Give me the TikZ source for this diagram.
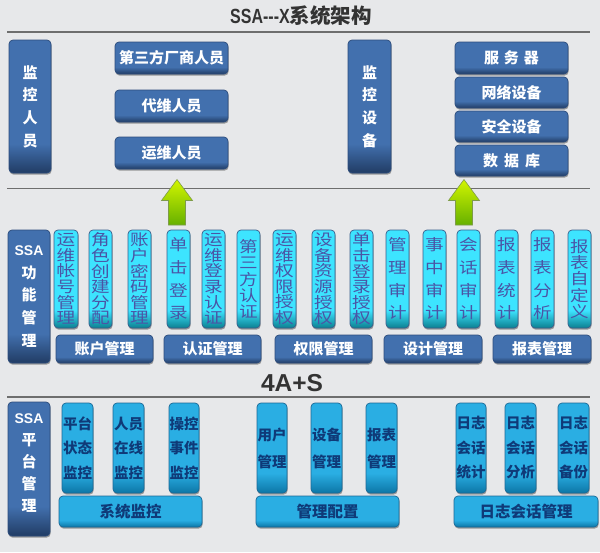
\documentclass[tikz,border=0pt]{standalone}
\usepackage{fontspec}
\usepackage{graphicx}
\setmainfont{Noto Sans CJK SC}
\newfontfamily\lat{Liberation Sans}
\newfontfamily\cjkwide[FakeStretch=1.2]{Noto Sans CJK SC}
\usetikzlibrary{shadows}

\definecolor{bg}{HTML}{E7E8EA}
\definecolor{rule}{HTML}{6E6E6E}
\definecolor{dkA}{HTML}{4270AE}
\definecolor{dkB}{HTML}{213C64}
\definecolor{dkE}{HTML}{2C4C7C}
\definecolor{cyA}{HTML}{3DE4FF}
\definecolor{cyB}{HTML}{0B7F90}
\definecolor{cyE}{HTML}{3A5E8C}
\definecolor{cyT}{HTML}{4A55A6}
\definecolor{mbA}{HTML}{2AAEE3}
\definecolor{mbB}{HTML}{0C76A6}
\definecolor{mbE}{HTML}{1B6896}
\definecolor{mbT}{HTML}{0F3A78}
\definecolor{grA}{HTML}{D2F500}
\definecolor{grB}{HTML}{66B000}
\definecolor{grE}{HTML}{7E9B4A}
\definecolor{ttl}{HTML}{333333}

\pgfdeclareverticalshading{dkshade}{100bp}{color(0bp)=(dkB); color(25bp)=(dkB); color(36bp)=(dkA); color(100bp)=(dkA)}
\pgfdeclareverticalshading{cyshade}{100bp}{color(0bp)=(cyB); color(25bp)=(cyB); color(34bp)=(cyA); color(100bp)=(cyA)}
\pgfdeclareverticalshading{mbshade}{100bp}{color(0bp)=(mbB); color(25bp)=(mbB); color(36bp)=(mbA); color(100bp)=(mbA)}
\pgfdeclareverticalshading{grshade}{100bp}{color(0bp)=(grB); color(25bp)=(grB); color(75bp)=(grA); color(100bp)=(grA)}

\tikzset{
  boxbase/.style={rounded corners=4pt, inner sep=0pt, outer sep=0pt, align=center,
    line width=0.7pt, drop shadow={shadow xshift=0.6pt, shadow yshift=-1.6pt, opacity=0.35, fill=black}},
  dkbox/.style={boxbase, draw=dkE, shade, shading=dkshade, text=white,
    font=\bfseries\fontsize{15}{22.6}\selectfont},
  cybox/.style={boxbase, draw=cyE, shade, shading=cyshade, text=cyT,
    font=\cjkwide\fontsize{15.5}{15.6}\selectfont},
  cyfour/.style={font=\cjkwide\fontsize{15.5}{22.7}\selectfont},
  cyfive/.style={font=\cjkwide\fontsize{15.5}{16.4}\selectfont},
  mbbox/.style={boxbase, draw=mbE, shade, shading=mbshade, text=mbT,
    font=\bfseries\fontsize{14.5}{24.5}\selectfont},
  mbtwo/.style={font=\bfseries\fontsize{14.5}{27}\selectfont},
  grpmb/.style={font=\bfseries\fontsize{15.5}{18}\selectfont},
  rulel/.style={draw=rule, line width=1.5pt},
  arrowbox/.style={draw=grE, line width=0.6pt, shade, shading=grshade},
  titletext/.style={text=ttl, anchor=base, inner sep=0pt}
}

\newcommand\mybox[7]{\node[#1, minimum width={(#5)-(#3)}, minimum height={(#6)-(#4)}] (#2) at ({((#3)+(#5))/2},{((#4)+(#6))/2}) {#7};}
\newcommand\greenarrow[1]{\path[arrowbox] ({#1-8.5},225) -- ({#1-8.5},200.5) -- ({#1-15.5},200.5) -- (#1,179.5) -- ({#1+15.5},200.5) -- ({#1+8.5},200.5) -- ({#1+8.5},225) -- cycle;}

\begin{document}
\begin{tikzpicture}[x=1pt,y=-1pt]
\fill[bg] (0,0) rectangle (600,552);
\useasboundingbox (0,0) rectangle (600,552);

% titles and rules
\node[titletext, font=\bfseries\fontsize{20.5}{22}\selectfont] (title) at (301,23)
  {{\lat\bfseries\scalebox{0.78}[1]{SSA---X}}系统架构};
\coordinate (r1a) at (7,32); \coordinate (r1b) at (590,32);
\draw[rulel] (r1a) -- (r1b);
\coordinate (r2a) at (7,188.5); \coordinate (r2b) at (590,188.5);
\draw[rulel] (r2a) -- (r2b);
\node[titletext, font=\lat\bfseries\fontsize{24.5}{26}\selectfont] (fas) at (292,391.5) {4A+S};
\coordinate (r3a) at (7,397); \coordinate (r3b) at (590,397);
\draw[rulel] (r3a) -- (r3b);

% top section
\mybox{dkbox}{jkry}{9}{40}{51}{173}{监\\控\\人\\员}
\mybox{dkbox}{dsf}{115}{42}{228}{74}{第三方厂商人员}
\mybox{dkbox}{dw}{115}{90}{228}{122}{代维人员}
\mybox{dkbox}{yw}{115}{137}{228}{169}{运维人员}
\mybox{dkbox}{jksb}{348}{40}{391}{173}{监\\控\\设\\备}
\mybox{dkbox}{fwq}{455}{42}{568}{74}{服\hspace{5pt}务\hspace{5pt}器}
\mybox{dkbox}{wl}{455}{77}{568}{108}{网络设备}
\mybox{dkbox}{aq}{455}{111}{568}{142}{安全设备}
\mybox{dkbox}{sjk}{455}{145}{568}{176}{数\hspace{6pt}据\hspace{6pt}库}

% arrows
\greenarrow{177}
\greenarrow{464}

% middle section
\mybox{dkbox}{ssa1}{8}{230}{50}{363}{{\lat\fontsize{14}{22.6}\selectfont SSA}\\功\\能\\管\\理}
\mybox{cybox}{c1}{54}{230}{78}{328}{运\\维\\帐\\号\\管\\理}
\mybox{cybox}{c2}{89}{230}{112}{328}{角\\色\\创\\建\\分\\配}
\mybox{cybox}{c3}{128}{230}{151}{328}{账\\户\\密\\码\\管\\理}
\mybox{cybox,cyfour}{c4}{167}{230}{190}{328}{单\\击\\登\\录}
\mybox{cybox}{c5}{202}{230}{225}{328}{运\\维\\登\\录\\认\\证}
\mybox{cybox,cyfive}{c6}{237}{230}{260}{328}{第\\三\\方\\认\\证}
\mybox{cybox}{c7}{273}{230}{296}{328}{运\\维\\权\\限\\授\\权}
\mybox{cybox}{c8}{312}{230}{335}{328}{设\\备\\资\\源\\授\\权}
\mybox{cybox}{c9}{350}{230}{373}{328}{单\\击\\登\\录\\授\\权}
\mybox{cybox,cyfour}{c10}{386}{230}{409}{328}{管\\理\\审\\计}
\mybox{cybox,cyfour}{c11}{423}{230}{446}{328}{事\\中\\审\\计}
\mybox{cybox,cyfour}{c12}{457}{230}{480}{328}{会\\话\\审\\计}
\mybox{cybox,cyfour}{c13}{495}{230}{518}{328}{报\\表\\统\\计}
\mybox{cybox,cyfour}{c14}{531}{230}{554}{328}{报\\表\\分\\析}
\mybox{cybox,cyfive}{c15}{568}{230}{591}{328}{报\\表\\自\\定\\义}
\mybox{dkbox}{g1}{56}{335}{153}{363}{账户管理}
\mybox{dkbox}{g2}{164}{335}{261}{363}{认证管理}
\mybox{dkbox}{g3}{275}{335}{372}{363}{权限管理}
\mybox{dkbox}{g4}{384}{335}{482}{363}{设计管理}
\mybox{dkbox}{g5}{493}{335}{591}{363}{报表管理}

% bottom section
\mybox{dkbox}{ssa2}{8}{402}{50}{536}{}
\node[text=white, align=center, inner sep=0pt, font=\bfseries\fontsize{15}{22}\selectfont] (ssa2t) at ([yshift=6pt]ssa2.center)
  {{\lat\fontsize{14}{22}\selectfont SSA}\\平\\台\\管\\理};
\mybox{mbbox}{m1}{62}{403}{93}{493}{平台\\状态\\监控}
\mybox{mbbox}{m2}{113}{403}{144}{493}{人员\\在线\\监控}
\mybox{mbbox}{m3}{169}{403}{199}{493}{操控\\事件\\监控}
\mybox{mbbox,mbtwo}{m4}{257}{403}{287}{493}{用户\\管理}
\mybox{mbbox,mbtwo}{m5}{311}{403}{342}{493}{设备\\管理}
\mybox{mbbox,mbtwo}{m6}{366}{403}{397}{493}{报表\\管理}
\mybox{mbbox}{m7}{456}{403}{486}{493}{日志\\会话\\统计}
\mybox{mbbox}{m8}{505}{403}{536}{493}{日志\\会话\\分析}
\mybox{mbbox}{m9}{558}{403}{589}{493}{日志\\会话\\备份}
\mybox{mbbox,grpmb}{mg1}{59}{496}{202}{527}{系统监控}
\mybox{mbbox,grpmb}{mg2}{256}{496}{399}{527}{管理配置}
\mybox{mbbox,grpmb}{mg3}{454}{496}{598}{527}{日志会话管理}
\end{tikzpicture}
\end{document}
